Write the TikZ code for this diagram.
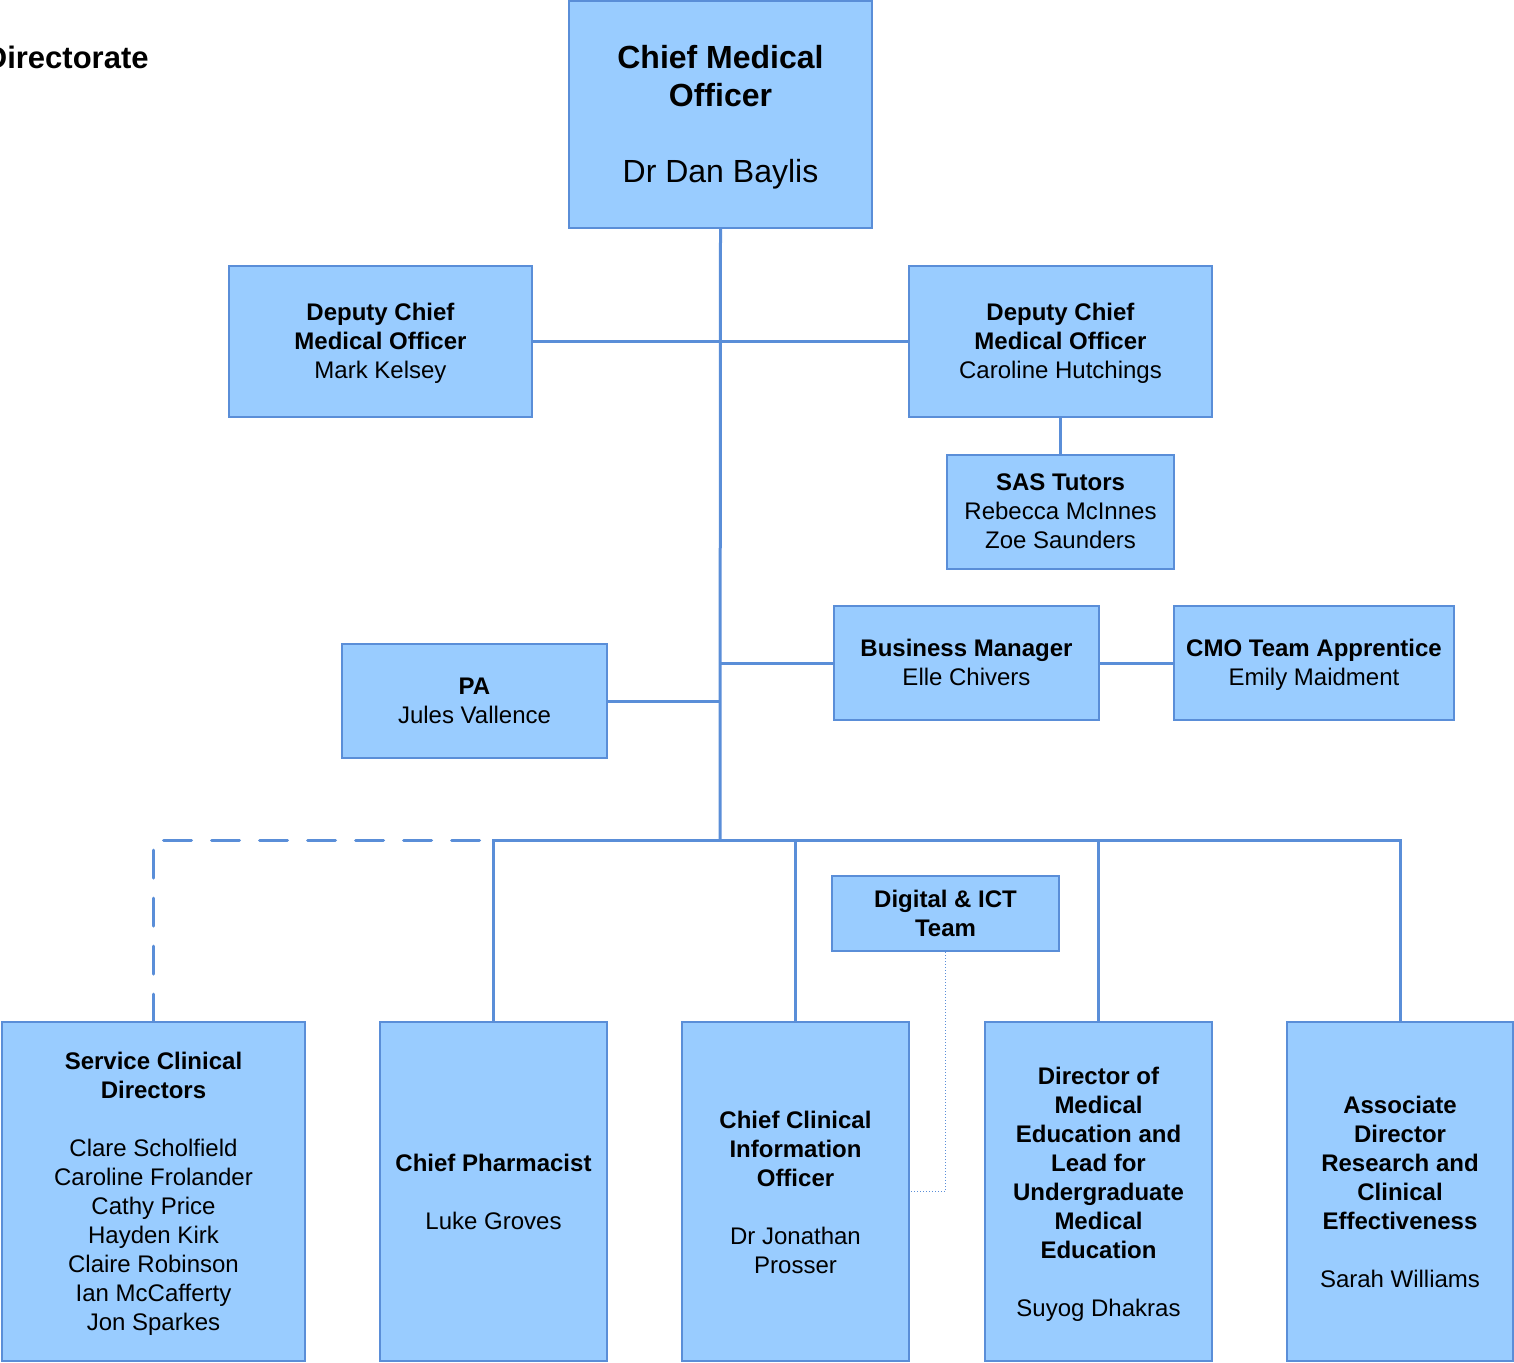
\documentclass[tikz,border=0pt]{standalone}
\usepackage{fontspec}
\setmainfont{Liberation Sans}
\definecolor{boxfill}{HTML}{99CCFF}
\definecolor{boxline}{HTML}{5A8ED8}
\tikzset{
  box/.style={draw=boxline, line width=1.2pt, fill=boxfill, inner sep=0pt},
  txt/.style={inner sep=0pt, align=center, font=\fontsize{12}{14.5}\selectfont},
  conn/.style={draw=boxline, line width=1.5pt},
  dashconn/.style={draw=boxline, line width=1.5pt, dash pattern=on 14pt off 10pt, line cap=round},
  dotconn/.style={draw=boxline, line width=0.5pt, densely dotted},
}
\begin{document}
\begin{tikzpicture}[x=0.5pt,y=-0.5pt]
\useasboundingbox (0,0) rectangle (1514,1362);

\node[font=\bfseries\fontsize{15.5}{19}\selectfont, anchor=base east, inner sep=0pt] (title) at (149,68) {Directorate};

% boxes
\node[box, minimum width=151.5pt, minimum height=113.5pt] (cmo) at (720.5,114.5) {};
\node[box, minimum width=151.5pt, minimum height=75.5pt] (dl) at (380.5,341.5) {};
\node[box, minimum width=151.5pt, minimum height=75.5pt] (dr) at (1060.5,341.5) {};
\node[box, minimum width=113.5pt, minimum height=57pt] (sas) at (1060.5,512) {};
\node[box, minimum width=132.5pt, minimum height=57pt] (bm) at (966.5,663) {};
\node[box, minimum width=140pt, minimum height=57pt] (app) at (1314,663) {};
\node[box, minimum width=132.5pt, minimum height=57pt] (pa) at (474.5,701) {};
\node[box, minimum width=113.5pt, minimum height=37.5pt] (dig) at (945.5,913.5) {};
\node[box, minimum width=151.5pt, minimum height=169.5pt] (scd) at (153.5,1191.5) {};
\node[box, minimum width=113.5pt, minimum height=169.5pt] (cp) at (493.5,1191.5) {};
\node[box, minimum width=113.5pt, minimum height=169.5pt] (ccio) at (795.5,1191.5) {};
\node[box, minimum width=113.5pt, minimum height=169.5pt] (dme) at (1098.5,1191.5) {};
\node[box, minimum width=113pt, minimum height=169.5pt] (adr) at (1400,1191.5) {};

% texts
\node[txt, font=\fontsize{16}{19}\selectfont] (cmo-t) at ([yshift=-1.5pt]cmo.center)
  {\textbf{Chief Medical}\\\textbf{Officer}\\[19pt]Dr Dan Baylis};
\node[txt] (dl-t) at ([yshift=-1pt]dl.center)
  {\textbf{Deputy Chief}\\\textbf{Medical Officer}\\Mark Kelsey};
\node[txt] (dr-t) at ([yshift=-1pt]dr.center)
  {\textbf{Deputy Chief}\\\textbf{Medical Officer}\\Caroline Hutchings};
\node[txt] (sas-t) at ([yshift=0.5pt]sas.center)
  {\textbf{SAS Tutors}\\Rebecca McInnes\\Zoe Saunders};
\node[txt] (bm-t) at ([yshift=0.5pt]bm.center)
  {\textbf{Business Manager}\\Elle Chivers};
\node[txt] (app-t) at ([yshift=-1pt]app.center)
  {\textbf{CMO Team Apprentice}\\Emily Maidment};
\node[txt] (pa-t) at (pa.center)
  {\textbf{PA}\\Jules Vallence};
\node[txt] (dig-t) at (dig.center)
  {\textbf{Digital \& ICT}\\\textbf{Team}};
\node[txt] (scd-t) at ([yshift=-1.2pt]scd.center)
  {\textbf{Service Clinical}\\\textbf{Directors}\\[14.5pt]Clare Scholfield\\Caroline Frolander\\Cathy Price\\Hayden Kirk\\Claire Robinson\\Ian McCafferty\\Jon Sparkes};
\node[txt] (cp-t) at (cp.center)
  {\textbf{Chief Pharmacist}\\[14.5pt]Luke Groves};
\node[txt] (ccio-t) at ([yshift=-0.3pt]ccio.center)
  {\textbf{Chief Clinical}\\\textbf{Information}\\\textbf{Officer}\\[14.5pt]Dr Jonathan\\Prosser};
\node[txt] (dme-t) at ([yshift=-1.5pt]dme.center)
  {\textbf{Director of}\\\textbf{Medical}\\\textbf{Education and}\\\textbf{Lead for}\\\textbf{Undergraduate}\\\textbf{Medical}\\\textbf{Education}\\[14.5pt]Suyog Dhakras};
\node[txt] (adr-t) at ([yshift=-0.3pt]adr.center)
  {\textbf{Associate}\\\textbf{Director}\\\textbf{Research and}\\\textbf{Clinical}\\\textbf{Effectiveness}\\[14.5pt]Sarah Williams};

% connectors
\coordinate (j1) at (720,840);
\draw[conn] (cmo.south) -- (j1);
\draw[conn] (dl.east) -- (dr.west);
\draw[conn] (dr.south) -- (sas.north);
\draw[conn] (bm.west) -- (bm.west -| j1);
\draw[conn] (bm.east) -- (app.west);
\draw[conn] (pa.east) -- (pa.east -| j1);
\draw[conn] (cp.north) |- (adr.north |- j1) -- (adr.north);
\draw[conn] (ccio.north) -- (ccio.north |- j1);
\draw[conn] (dme.north) -- (dme.north |- j1);
\draw[dashconn] (cp.north |- j1) ++(-14,0) -| (scd.north);
\draw[dotconn] (dig.south) |- (ccio.east);
\end{tikzpicture}
\end{document}
